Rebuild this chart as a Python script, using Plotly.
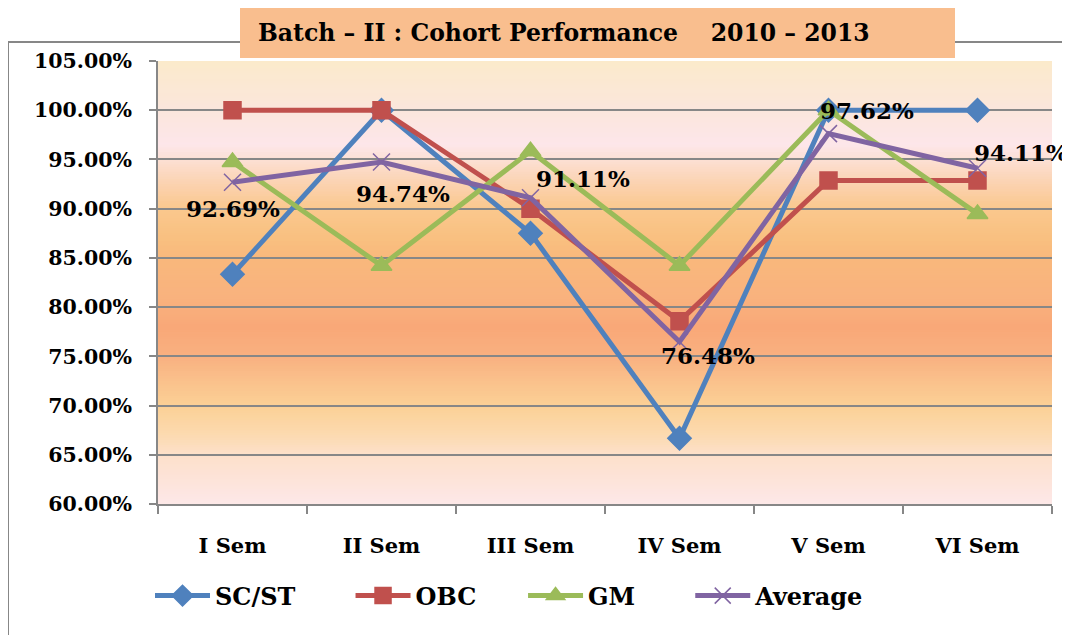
import plotly.graph_objects as go
import numpy as np

categories = ["I Sem", "II Sem", "III Sem", "IV Sem", "V Sem", "VI Sem"]
sc_st = [83.33, 100.0, 87.50, 66.67, 100.0, 100.0]
obc = [100.0, 100.0, 90.00, 78.57, 92.86, 92.86]
gm = [94.74, 84.21, 95.83, 84.21, 100.0, 89.47]
average = [92.69, 94.74, 91.11, 76.48, 97.62, 94.11]
avg_labels = ["92.69%", "94.74%", "91.11%", "76.48%", "97.62%", "94.11%"]
y_ticks = [60, 65, 70, 75, 80, 85, 90, 95, 100, 105]
y_tick_labels = [f"{v:.2f}%" for v in y_ticks]

FONT = "DejaVu Serif"
OFF = 8  # page body margin
W, H = 1070 - OFF, 635 - OFF

fig = go.Figure()

NB = "\u00a0"
series = [
    ("SC/ST", sc_st, "#4F81BD", "diamond", 18, 6),
    ("OBC", obc, "#C0504D", "square", 17, 5),
    ("GM", gm, "#9BBB59", "triangle-up", 18, 6),
    ("Average", average, "#8064A2", "x-thin-open", 17, 0),
]
for name, vals, col, sym, sz, pad in series:
    fig.add_trace(go.Scatter(
        x=categories, y=vals, name=name + NB * pad, mode="lines+markers",
        line=dict(color=col, width=5),
        marker=dict(symbol=sym, size=sz, color=col,
                    line=dict(color=col, width=1.5)),
    ))

# data labels for the average series
shifts = [(0, -26), (21, -31), (52, 19), (28, -14), (38, 23), (43, 16)]
for c, v, t, (dx, dy) in zip(categories, average, avg_labels, shifts):
    fig.add_annotation(x=c, y=v, text=t, showarrow=False, xshift=dx, yshift=dy,
                       font=dict(family=FONT, size=23, color="black", weight="bold"))

# gradient background
stops = [(60, "#FDE8E8"), (62, "#FDE4DC"), (65, "#FDE0CA"), (67, "#FCDAB0"),
         (70, "#FBD095"), (72, "#FAC48E"), (75, "#F9B080"), (78, "#F9A878"),
         (81, "#F9B27E"), (85, "#F9B87C"), (87, "#F9C080"), (90, "#FAC88E"),
         (92.5, "#FBD2B0"), (95, "#FCE0D4"), (96.5, "#FDE6EA"), (100, "#FBE6DC"),
         (105, "#FBEACB")]

def hex2rgb(h):
    return np.array([int(h[i:i + 2], 16) for i in (1, 3, 5)], dtype=float)

sv = np.array([s[0] for s in stops])
sc = np.array([hex2rgb(s[1]) for s in stops])
step = 0.25
shapes = []
yv = 60.0
while yv < 105 - 1e-9:
    mid = yv + step / 2
    rgb = [np.interp(mid, sv, sc[:, k]) for k in range(3)]
    col = "rgb(%d,%d,%d)" % tuple(int(round(c)) for c in rgb)
    shapes.append(dict(type="rect", xref="paper", yref="y", x0=0, x1=1,
                       y0=yv, y1=min(yv + 2 * step, 105), fillcolor=col,
                       line=dict(width=0), layer="below"))
    yv += step

# page-pixel helpers
L, R, T, B = 158, 1052, 61, 504
def px(xp):
    return (xp - L) / (R - L)
def pyp(yp):
    return (B - yp) / (B - T)

shapes.append(dict(type="line", xref="paper", yref="paper", x0=px(8), x1=px(1090),
                   y0=pyp(42), y1=pyp(42), line=dict(color="#878787", width=2), layer="above"))
shapes.append(dict(type="line", xref="paper", yref="paper", x0=px(8), x1=px(8),
                   y0=pyp(42), y1=pyp(660), line=dict(color="#878787", width=2), layer="above"))
# title box
shapes.append(dict(type="rect", xref="paper", yref="paper", x0=px(240), x1=px(955),
                   y0=pyp(58), y1=pyp(4), fillcolor="#F9BE8E",
                   line=dict(width=0), layer="above"))

fig.add_annotation(xref="paper", yref="paper", x=px(564), y=pyp(33),
                   xanchor="center", yanchor="middle",
                   text="Batch – II : Cohort Performance    2010 – 2013",
                   showarrow=False, font=dict(family=FONT, size=23.5, color="black", weight="bold"))

fig.update_layout(
    width=W, height=H,
    margin=dict(l=L - OFF, r=1070 - R, t=T - OFF, b=635 - B, pad=0),
    paper_bgcolor="white", plot_bgcolor="white",
    shapes=shapes,
    showlegend=True,
    legend=dict(orientation="h", x=px(150), y=pyp(596), xanchor="left", yanchor="middle",
                font=dict(family=FONT, size=24, color="black", weight="bold"),
                itemwidth=55, bgcolor="rgba(0,0,0,0)"),
    xaxis=dict(type="category", categoryorder="array", categoryarray=categories,
               range=[-0.5, 5.5], showgrid=False, showline=True, linecolor="#878787",
               linewidth=2, ticks="outside", tickson="boundaries", ticklen=8,
               tickcolor="#878787", tickwidth=2, ticklabelstandoff=22,
               tickfont=dict(family=FONT, size=21, color="black", weight="bold"),
               fixedrange=True),
    yaxis=dict(range=[60, 105], tickvals=y_ticks, ticktext=y_tick_labels,
               showgrid=True, gridcolor="#878787", gridwidth=2,
               showline=True, linecolor="#878787", linewidth=2,
               ticks="outside", ticklen=7, tickcolor="#878787", tickwidth=2,
               ticklabelstandoff=13,
               tickfont=dict(family=FONT, size=20.5, color="black", weight="bold"),
               zeroline=False, fixedrange=True),
)

fig.write_html("out.html")
